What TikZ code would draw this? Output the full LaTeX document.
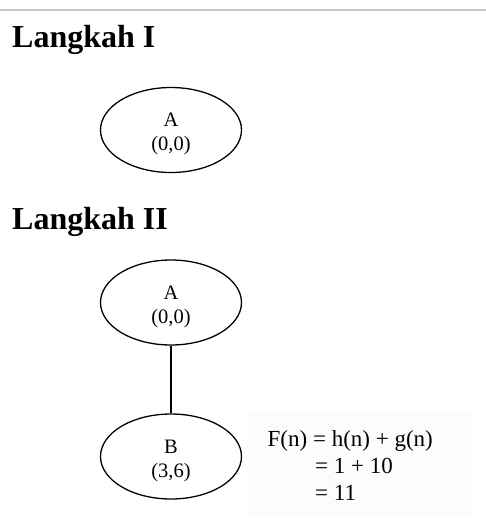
\documentclass[tikz,border=0pt]{standalone}
\usepackage{fontspec}
\setmainfont{Liberation Serif}
\usetikzlibrary{shapes.geometric}
\definecolor{rulegray}{HTML}{C8C8C8}
\definecolor{boxbg}{HTML}{FCFCFC}
\newcommand{\statetext}[2]{\raisebox{-4pt}[\height][\depth]{\begin{tabular}{@{}c@{}}#1\\#2\end{tabular}}}
\tikzset{
  heading/.style={anchor=base west, inner sep=0pt, font=\fontsize{32}{36}\selectfont\bfseries},
  state/.style={draw, ellipse, line width=1.3pt, minimum width=141pt, minimum height=85pt, inner sep=0pt, align=center, font=\fontsize{20.5}{24}\selectfont},
  formula/.style={anchor=base west, inner sep=0pt, font=\fontsize{23}{27}\selectfont},
  link/.style={line width=1.3pt}
}
\begin{document}
\begin{tikzpicture}[x=1pt, y=-1pt]
\useasboundingbox (0,0) rectangle (486,531);
\fill[white] (0,0) rectangle (486,531);
\coordinate (r1) at (0,10);
\coordinate (r2) at (486,10);
\draw[rulegray, line width=2pt] (r1) -- (r2);
\fill[boxbg] (247,413) rectangle (473,517);
\node[heading] (h1) at (12,47) {Langkah I};
\node[state] (a1) at (171,130) {\statetext{A}{(0,0)}};
\node[heading] (h2) at (12,229) {Langkah II};
\node[state] (a2) at (171,302.5) {\statetext{A}{(0,0)}};
\node[state] (b) at (171,456.5) {\statetext{B}{(3,6)}};
\draw[link] (a2.south) -- (b.north);
\node[formula] (f1) at (267.5,446.5) {F(n) = h(n) + g(n)};
\node[formula] (f2) at (315,473.5) {= 1 + 10};
\node[formula] (f3) at (315,500.5) {= 11};
\end{tikzpicture}
\end{document}
